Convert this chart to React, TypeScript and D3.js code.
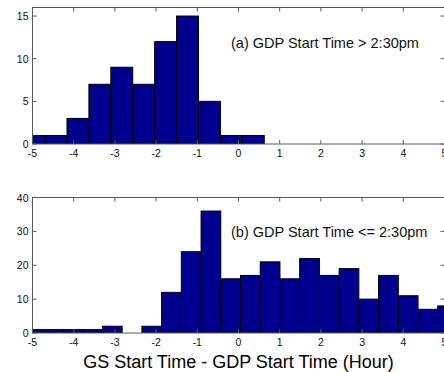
import React from "react";
import * as d3 from "d3";

const xTicks = [-5, -4, -3, -2, -1, 0, 1, 2, 3, 4, 5];

const countsA = [1, 1, 3, 7, 9, 7, 12, 15, 5, 1, 1];
const firstEdgeA = -5.227;
const binWidthA = 0.532;
const yTicksA = [0, 5, 10, 15];
const yMaxA = 16;
const labelA = "(a) GDP Start Time > 2:30pm";

const countsB = [1, 1, 1, 1, 2, 0, 2, 12, 24, 36, 16, 17, 21, 16, 22, 17, 19, 10, 17, 11, 7, 8];
const firstEdgeB = -5.217;
const binWidthB = 0.4787;
const yTicksB = [0, 10, 20, 30, 40];
const yMaxB = 40;
const labelB = "(b) GDP Start Time <= 2:30pm";

const xLabel = "GS Start Time - GDP Start Time (Hour)";

const W = 444;
const H = 372;
const FONT = "'Liberation Sans', Arial, sans-serif";
const AXIS = "#5a5a5a";
const BAR = "#00008f";

type PanelProps = {
  id: string;
  top: number;
  bottom: number;
  counts: number[];
  firstEdge: number;
  binWidth: number;
  yTicks: number[];
  yMax: number;
  label: string;
  labelY: number;
};

function Panel(p: PanelProps) {
  const x = d3.scaleLinear().domain([-5, 5]).range([32.5, 444.5]);
  const y = d3.scaleLinear().domain([0, p.yMax]).range([p.bottom, p.top]);
  const bars = p.counts.map((c, i) => {
    const x0 = p.firstEdge + i * p.binWidth;
    return { x0, x1: x0 + p.binWidth, c };
  });
  const tl = 4;
  return (
    <g>
      <defs>
        <clipPath id={p.id}>
          <rect x={x(-5)} y={p.top} width={x(5) - x(-5)} height={p.bottom - p.top} />
        </clipPath>
      </defs>
      <rect x={x(-5)} y={p.top} width={x(5) - x(-5)} height={p.bottom - p.top} fill="#fff" />
      <g clipPath={`url(#${p.id})`}>
        {bars.map((b, i) =>
          b.c > 0 ? (
            <rect
              key={i}
              x={x(b.x0)}
              y={y(b.c)}
              width={x(b.x1) - x(b.x0)}
              height={y(0) - y(b.c)}
              fill={BAR}
              stroke="#000"
              strokeWidth={1}
            />
          ) : null
        )}
      </g>
      <rect
        x={x(-5)}
        y={p.top}
        width={x(5) - x(-5)}
        height={p.bottom - p.top}
        fill="none"
        stroke={AXIS}
        strokeWidth={1}
      />
      {xTicks.map((t) => (
        <g key={"xt" + t}>
          <line x1={x(t)} x2={x(t)} y1={p.bottom} y2={p.bottom - tl} stroke={AXIS} />
          <line x1={x(t)} x2={x(t)} y1={p.top} y2={p.top + tl} stroke={AXIS} />
          <text
            x={x(t)}
            y={p.bottom + 13}
            textAnchor="middle"
            fontSize={10.5}
            fontFamily={FONT}
            fill="#111"
          >
            {t}
          </text>
        </g>
      ))}
      {p.yTicks.map((t) => (
        <g key={"yt" + t}>
          <line x1={x(-5)} x2={x(-5) + tl} y1={y(t)} y2={y(t)} stroke={AXIS} />
          <line x1={x(5)} x2={x(5) - tl} y1={y(t)} y2={y(t)} stroke={AXIS} />
          <text
            x={x(-5) - 4}
            y={y(t) + 4}
            textAnchor="end"
            fontSize={10.5}
            fontFamily={FONT}
            fill="#111"
          >
            {t}
          </text>
        </g>
      ))}
      <text x={231} y={p.labelY} fontSize={14.5} fontFamily={FONT} fill="#111">
        {p.label}
      </text>
    </g>
  );
}

export default function App() {
  return (
    <svg
      width={W}
      height={H}
      style={{ position: "absolute", left: 0, top: 0, background: "#fff" }}
    >
      <rect x={0} y={0} width={W} height={H} fill="#fff" />
      <Panel
        id="clipA"
        top={7.5}
        bottom={144}
        counts={countsA}
        firstEdge={firstEdgeA}
        binWidth={binWidthA}
        yTicks={yTicksA}
        yMax={yMaxA}
        label={labelA}
        labelY={47.5}
      />
      <Panel
        id="clipB"
        top={197.5}
        bottom={333}
        counts={countsB}
        firstEdge={firstEdgeB}
        binWidth={binWidthB}
        yTicks={yTicksB}
        yMax={yMaxB}
        label={labelB}
        labelY={236.5}
      />
      <text
        x={238.5}
        y={368}
        textAnchor="middle"
        fontSize={18}
        fontFamily={FONT}
        fill="#000"
      >
        {xLabel}
      </text>
    </svg>
  );
}
